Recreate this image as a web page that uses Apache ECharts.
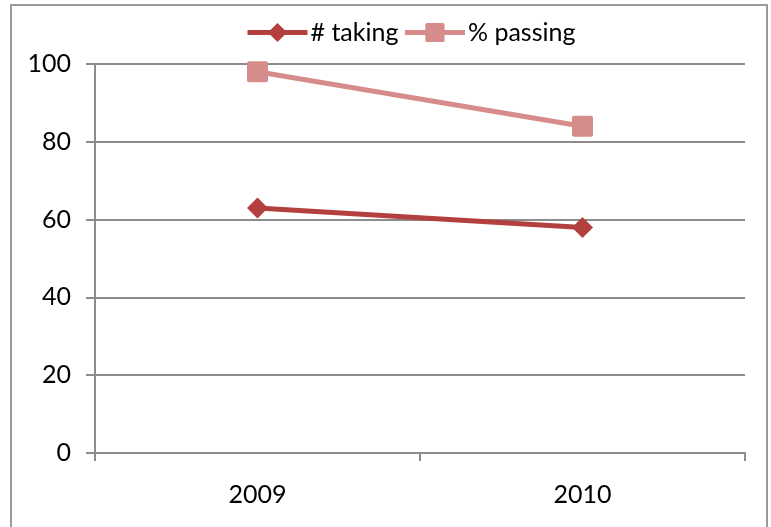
<!DOCTYPE html>
<html>
<head>
<meta charset="utf-8">
<style>
  html, body { margin: 0; padding: 0; background: #fff; }
  #chart { width: 771px; height: 527px; }
</style>
<script src="https://cdn.jsdelivr.net/npm/echarts@6/dist/echarts.min.js"></script>
</head>
<body>
<div id="chart"></div>
<script>
// Exam statistics by year
const years = ['2009', '2010'];
const numberTaking = [63, 58];
const percentPassing = [98, 84];
const yTicks = [0, 20, 40, 60, 80, 100];

const chart = echarts.init(document.getElementById('chart'), null, { renderer: 'canvas' });
const font = 'Lato, "Open Sans", sans-serif';
const gray = '#8c8c8c';
const darkRed = '#b3403e';
const lightRed = '#d68c8a';
const squarePath = 'path://M2,0 L18,0 Q20,0 20,2 L20,18 Q20,20 18,20 L2,20 Q0,20 0,18 L0,2 Q0,0 2,0 Z';

chart.setOption({
  animation: false,
  backgroundColor: '#fff',
  graphic: [{
    type: 'rect',
    silent: true,
    shape: { x: 11, y: 5, width: 756, height: 540 },
    style: { fill: 'none', stroke: '#9a9a9a', lineWidth: 2 }
  }],
  legend: {
    top: 15,
    left: 240,
    itemWidth: 60,
    itemHeight: 24,
    itemGap: 4,
    textStyle: { fontFamily: font, fontSize: 25, color: '#000', padding: [0, 0, 0, -2] },
    data: [
      { name: '# taking', lineStyle: { width: 5, color: darkRed }, itemStyle: { color: darkRed } },
      { name: '% passing', lineStyle: { width: 5, color: lightRed }, itemStyle: { color: lightRed } }
    ]
  },
  grid: { left: 95, right: 26, top: 64, bottom: 74 },
  xAxis: {
    type: 'category',
    data: years,
    boundaryGap: true,
    axisLine: { lineStyle: { color: gray, width: 2 } },
    axisTick: { show: true, length: 8, lineStyle: { color: gray, width: 2 } },
    axisLabel: { fontFamily: font, fontSize: 25, color: '#000', margin: 29 }
  },
  yAxis: {
    type: 'value',
    min: yTicks[0],
    max: yTicks[yTicks.length - 1],
    interval: 20,
    axisLine: { show: true, lineStyle: { color: gray, width: 2 } },
    axisTick: { show: true, length: 9, lineStyle: { color: gray, width: 2 } },
    axisLabel: { fontFamily: font, fontSize: 25, color: '#000', margin: 24 },
    splitLine: { lineStyle: { color: gray, width: 2 } }
  },
  series: [
    {
      name: '# taking',
      type: 'line',
      data: numberTaking,
      symbol: 'diamond',
      symbolSize: 21,
      lineStyle: { color: darkRed, width: 5 },
      itemStyle: { color: darkRed }
    },
    {
      name: '% passing',
      type: 'line',
      data: percentPassing,
      symbol: squarePath,
      symbolSize: 21,
      lineStyle: { color: lightRed, width: 5 },
      itemStyle: { color: lightRed }
    }
  ]
});
</script>
</body>
</html>
